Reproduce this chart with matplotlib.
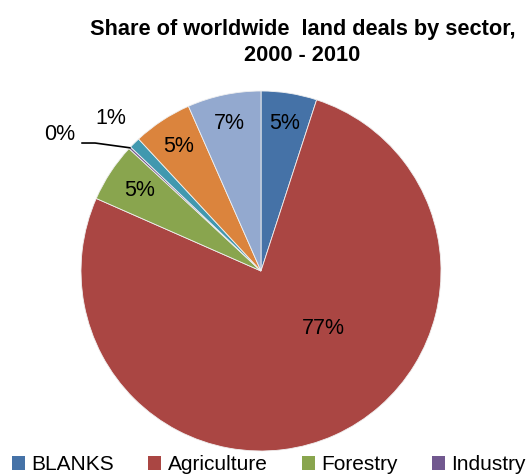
import matplotlib
matplotlib.use('Agg')
import matplotlib.pyplot as plt
import numpy as np
from matplotlib.patches import Patch

plt.rcParams['font.family'] = ['Liberation Sans', 'DejaVu Sans']

# Data (shares in %, clockwise from 12 o'clock)
sectors = ['BLANKS', 'Agriculture', 'Forestry', 'Industry', 'Other 1', 'Other 2', 'Other 3']
shares = [5.0, 76.6, 5.3, 0.2, 1.0, 5.3, 6.6]
colors = ['#4572A7', '#AA4643', '#89A54E', '#71588F', '#4198AF', '#DB843D', '#93A9CF']
legend_items = ['BLANKS', 'Agriculture', 'Forestry', 'Industry']

W, H = 526, 476
fig = plt.figure(figsize=(W / 100, H / 100), dpi=100)
cx, cy, R = 261, 271, 180
ax = fig.add_axes([(cx - R) / W, (H - cy - R) / H, 2 * R / W, 2 * R / H])

wedges, _ = ax.pie(shares, colors=colors, startangle=90, counterclock=False,
                   radius=1, wedgeprops=dict(edgecolor='#f0f0f0', linewidth=0.6))
ax.set_xlim(-1, 1)
ax.set_ylim(-1, 1)
ax.set_aspect('equal')
ax.axis('off')

# label placement: (radius fraction, angle override in degrees or None)
label_pos = [(0.83, None), (0.47, -42.6), (0.81, None), None,
             (1.19, None), (0.83, None), (0.84, None)]
for w, val, pos in zip(wedges, shares, label_pos):
    if pos is None:
        continue
    r, ang = pos
    if ang is None:
        ang = (w.theta1 + w.theta2) / 2
    a = np.deg2rad(ang)
    ax.text(r * np.cos(a), r * np.sin(a), '%d%%' % round(val), ha='center',
            va='center', fontsize=15.5, color='black', clip_on=False)

# 0% label with leader line to the Industry wedge
w = wedges[3]
a = np.deg2rad((w.theta1 + w.theta2) / 2)
ax.text(-1.117, 0.756, '%d%%' % round(shares[3]), ha='center', va='center',
        fontsize=15.5, clip_on=False)
ax.plot([-0.994, -0.922, np.cos(a)], [0.711, 0.711, np.sin(a)],
        color='black', lw=1.2, clip_on=False)

fig.text(0.575, 0.911, 'Share of worldwide  land deals by sector,\n2000 - 2010',
         ha='center', va='center', fontsize=15.7, fontweight='bold', linespacing=1.3)

handles = [Patch(facecolor=colors[sectors.index(s)], label=s) for s in legend_items]
fig.legend(handles=handles, loc='center left', bbox_to_anchor=(12 / W, 1 - 465 / H),
           ncol=4, frameon=False, fontsize=15, handlelength=0.62, handleheight=0.62,
           handletextpad=0.3, columnspacing=1.65, borderaxespad=0, borderpad=0)

fig.savefig('out.png', dpi=100)
